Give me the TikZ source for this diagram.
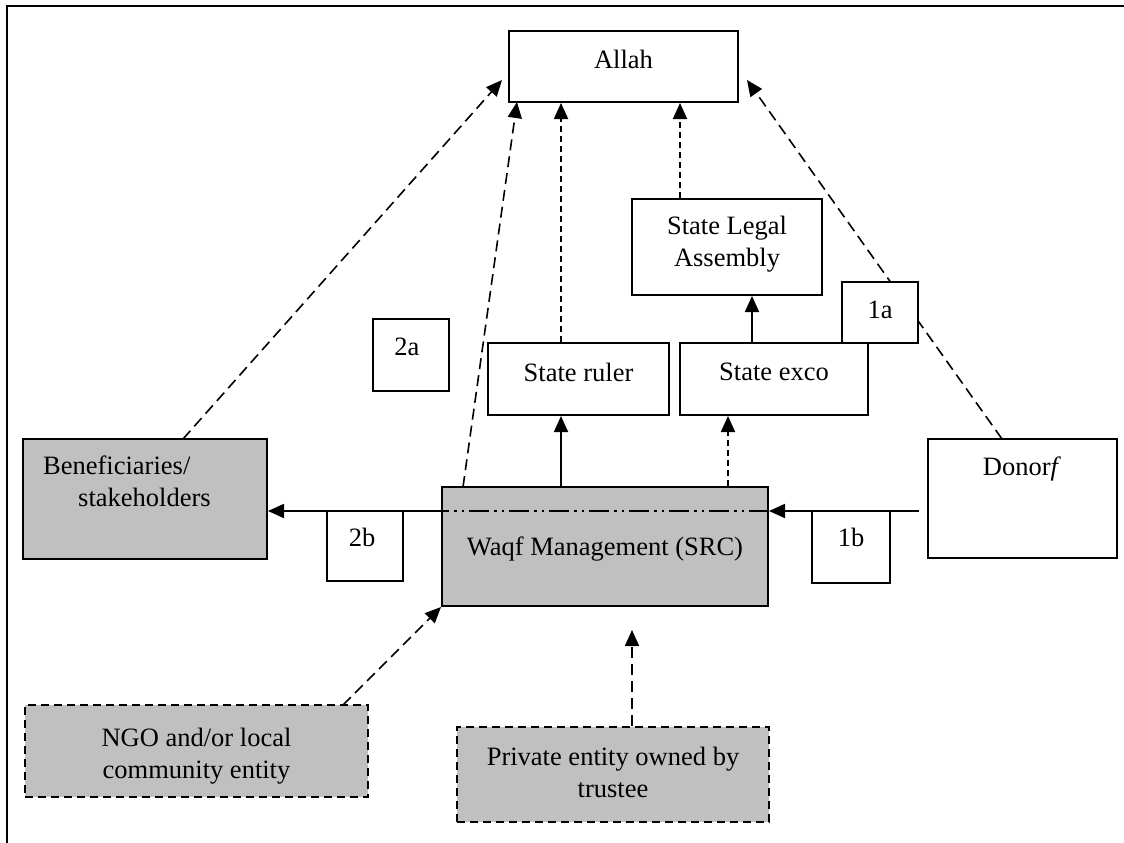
\documentclass[tikz,border=0pt]{standalone}
\usepackage{fontspec}
\setmainfont{Liberation Serif}
\usetikzlibrary{arrows.meta,calc,backgrounds}
\definecolor{boxgray}{HTML}{C0C0C0}
\begin{document}
\begin{tikzpicture}[x=1pt,y=-1pt,
  every node/.style={font=\fontsize{26.5}{32}\selectfont},
  box/.style={draw,line width=2pt,inner sep=0pt,fill=white},
  graybox/.style={box,fill=boxgray},
  dbox/.style={draw,line width=2pt,inner sep=0pt,fill=boxgray,dash pattern=on 8pt off 5pt},
  txt/.style={anchor=base,inner sep=0pt,align=center},
  tip/.style={-{Triangle[length=16pt,width=14pt]}},
  solidarr/.style={tip,line width=1.8pt},
  shortdash/.style={tip,line width=1.8pt,dash pattern=on 6pt off 4pt},
  longdash/.style={tip,line width=1.6pt,dash pattern=on 11pt off 6pt},
]
\useasboundingbox (0,0) rectangle (1124,843);
% outer frame (partial)
\draw[line width=2pt] (7,843) -- (7,6) -- (1124,6);

% boxes
\node[box,minimum width=229pt,minimum height=71pt] (allah) at (623.5,66.5) {};
\node[box,minimum width=190pt,minimum height=96pt] (legal) at (727,247) {};
\node[box,minimum width=181pt,minimum height=72pt] (ruler) at (578.5,379) {};
\node[box,minimum width=188pt,minimum height=72pt] (exco) at (774,379) {};
\node[box,minimum width=76pt,minimum height=72pt] (b2a) at (411,355) {};
\node[box,minimum width=76pt,minimum height=61pt] (b1a) at (880,312.5) {};
\node[graybox,minimum width=244pt,minimum height=120pt] (benef) at (145,499) {};
\node[graybox,minimum width=326pt,minimum height=119pt] (waqf) at (605,546.5) {};
\node[box,minimum width=76pt,minimum height=70pt] (b2b) at (365,546) {};
\node[box,minimum width=78pt,minimum height=72pt] (b1b) at (851,547) {};
\node[box,minimum width=189pt,minimum height=119pt] (donor) at (1022.5,498.5) {};
\node[dbox,minimum width=343pt,minimum height=92pt] (ngo) at (196.5,751) {};
\node[dbox,minimum width=312pt,minimum height=95pt] (priv) at (613,774.5) {};

% texts
\node[txt] (tallah) at (623.5,68) {Allah};
\node[txt] (tlegal) at (727,266) {State Legal\\Assembly};
\node[txt] (truler) at (578.5,381) {State ruler};
\node[txt] (texco) at (774,380) {State exco};
\node[txt] (t2a) at (407,355) {2a};
\node[txt] (t1a) at (880,318) {1a};
\node[txt,anchor=base west] (tbenef1) at (43,474) {Beneficiaries/};
\node[txt,anchor=base west] (tbenef2) at (78,506) {stakeholders};
\node[txt] (twaqf) at (605,555) {Waqf Management (SRC)};
\node[txt] (t2b) at (362,546) {2b};
\node[txt] (t1b) at (851,546) {1b};
\node[txt] (tdonor) at (1022,475) {Donor\textit{f}};
\node[txt] (tngo) at (196.5,778) {NGO and/or local\\community entity};
\node[txt] (tpriv) at (613,797) {Private entity owned by\\trustee};

% horizontal flow line
\coordinate (hl) at (0,511);
\coordinate (dstart) at ($(donor.west |- hl)+(-8,0)$);
\draw[line width=1.8pt,dash pattern=on 20pt off 5pt on 2.5pt off 5pt on 2.5pt off 5pt] (waqf.east |- hl) -- (waqf.west |- hl);

\begin{scope}[on background layer]
\draw[solidarr] (dstart) -- (waqf.east |- hl);
\draw[solidarr] (waqf.west |- hl) -- (benef.east |- hl);

% vertical links
\coordinate (xr) at (561,0);
\coordinate (xe) at (728,0);
\coordinate (xl) at (752,0);
\coordinate (xa) at (680,0);
\draw[solidarr] (waqf.north -| xr) -- (ruler.south -| xr);
\draw[shortdash] (waqf.north -| xe) -- (exco.south -| xe);
\draw[solidarr] (exco.north -| xl) -- (legal.south -| xl);
\draw[shortdash] (legal.north -| xa) -- (allah.south -| xa);
\draw[shortdash] (ruler.north -| xr) -- (allah.south -| xr);

% long dashed links to Allah
\coordinate (wq1) at (463,487);
\coordinate (al1) at (517,102);
\draw[longdash] (wq1) -- (al1);
\coordinate (bn1) at (183,439);
\coordinate (al2) at (502,80);
\draw[longdash] (bn1) -- (al2);
\coordinate (dn1) at (1002,439);
\coordinate (al3) at (747,80);
\draw[longdash] (dn1) -- (al3);

% links from bottom entities
\coordinate (ng1) at (343,705);
\draw[longdash] (ng1) -- (waqf.south west);
\coordinate (pv2) at (632,630);
\draw[longdash] (priv.north -| pv2) -- (pv2);
\end{scope}
\end{tikzpicture}
\end{document}
